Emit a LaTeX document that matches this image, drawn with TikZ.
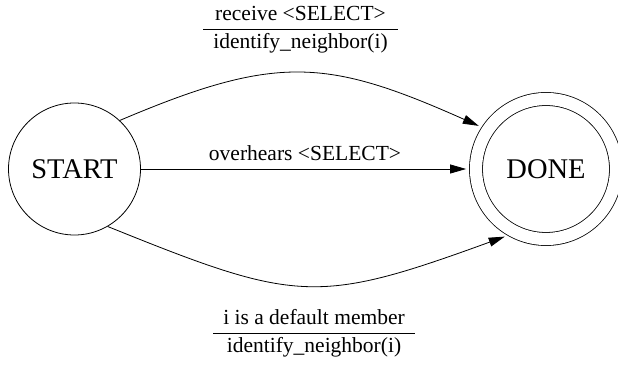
\documentclass[tikz,border=0pt]{standalone}
\usepackage{fontspec}
\setmainfont{Liberation Serif}
\usetikzlibrary{arrows.meta}

\setlength{\tabcolsep}{10pt}
\setlength{\arrayrulewidth}{0.8pt}
% event over action, split by a rule
\newcommand{\guardlabel}[2]{%
  \begin{tabular}{c}#1\\\hline #2\end{tabular}}

\begin{document}
\begin{tikzpicture}[
  x=1pt, y=1pt,
  state/.style={circle, draw, line width=0.8pt, minimum size=132pt, inner sep=0pt,
    font=\fontsize{28.5}{34}\selectfont},
  final/.style={state, minimum size=140pt, double, double distance=12.2pt, outer sep=6.9pt},
  trans/.style={-{Triangle[length=16pt, width=9pt]}, line width=0.8pt, shorten >=3pt},
  guard/.style={inner sep=0pt, font=\fontsize{21.5}{27}\selectfont}
]
\useasboundingbox (0,0) rectangle (618,369);

% the two states
\node[state] (start) at (74.5,200) {START};
\node[final] (done)  at (546,200)  {DONE};

% transitions
\draw[trans] (start.47) to[out=23, in=156, looseness=1.2] (done.147);
\draw[trans] (start) -- node[guard, above=8pt, text depth=0pt] (hear) {overhears <SELECT>} (done);
\draw[trans] (start.-60) to[out=-22, in=-160, looseness=1.3] (done.-120);

% guards on the curved edges
\node[guard] (recv) at (300.5,340) {\guardlabel{receive <SELECT>}{identify\_neighbor(i)}};
\node[guard] (dflt) at (314,36) {\guardlabel{i is a default member}{identify\_neighbor(i)}};

\end{tikzpicture}
\end{document}
